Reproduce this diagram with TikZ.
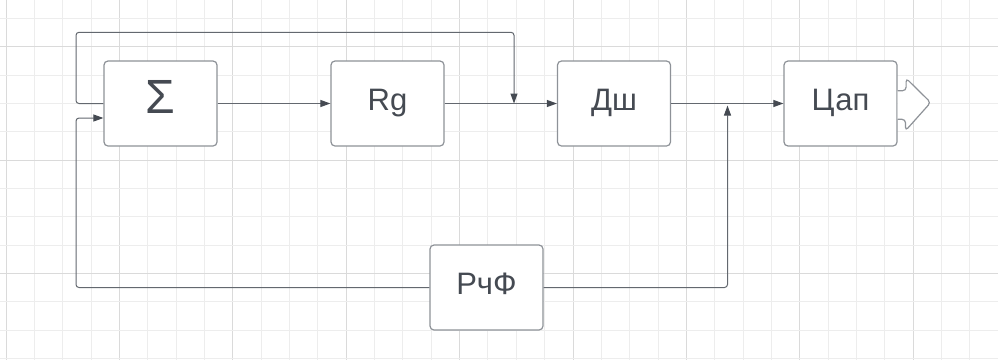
\documentclass[tikz,border=0pt]{standalone}
\usepackage{fontspec}
\setmainfont{Liberation Sans}
\usetikzlibrary{arrows.meta}
\definecolor{gridminor}{HTML}{EDEDED}
\definecolor{gridmajor}{HTML}{DADADA}
\definecolor{boxline}{HTML}{8E9298}
\definecolor{wirecol}{HTML}{63686F}
\definecolor{ink}{HTML}{454A52}
\tikzset{
  block/.style={draw=boxline, line width=1.2pt, fill=white, rounded corners=4pt,
    minimum width=113pt, minimum height=85pt, inner sep=0pt, text=ink,
    font=\fontsize{31}{36}\selectfont, text height=22pt, text depth=8pt},
  wire/.style={draw=wirecol, line width=1pt, rounded corners=3pt},
  feed/.style={wire, -{Triangle[length=10pt,width=7pt,color=ink]}},
  gminor/.style={draw=gridminor, line width=1pt},
  gmajor/.style={draw=gridmajor, line width=1pt},
}
\begin{document}
\begin{tikzpicture}[x=1pt,y=-1pt]
\fill[white] (0,0) rectangle (998,360);
\useasboundingbox (0,0) rectangle (998,360);

% background grid, a heavier line every fourth cell
\foreach \k in {0,...,35}{
  \pgfmathtruncatemacro{\m}{mod(\k,4)}
  \ifnum\m=0 \def\gs{gmajor}\else\def\gs{gminor}\fi
  \draw[\gs] (6+28.35*\k,0) -- (6+28.35*\k,360);
}
\foreach \k in {0,...,12}{
  \pgfmathtruncatemacro{\m}{mod(\k,4)}
  \ifnum\m=1 \def\gs{gmajor}\else\def\gs{gminor}\fi
  \draw[\gs] (0,18.3+28.35*\k) -- (998,18.3+28.35*\k);
}

% blocks
\node[block, font=\fontsize{48}{56}\selectfont, text height=35pt, text depth=16pt]
  (sigma) at (160.5,103.5) {Σ};
\node[block] (rg)   at (387.5,103.5) {Rg};
\node[block] (dsh)  at (614,103.5)   {Дш};
\node[block] (tsap) at (840.5,103.5) {Цап};
\node[block] (rchf) at (486.5,287.5) {РчФ};

% junction and bend points
\coordinate (j1) at (514,103.5);
\coordinate (j2) at (727.5,103.5);
\coordinate (tl) at (76,32.3);
\coordinate (bl) at (76,118);

% forward path
\draw[feed] (sigma.east) -- (rg.west);
\draw[feed] (rg.east) -- (dsh.west);
\draw[feed] (dsh.east) -- (tsap.west);

% loop around the summer into the junction before Дш
\draw[feed] (sigma.west) -| (tl) -| (j1);

% РчФ feedback to the summer and to the junction before Цап
\draw[feed] (rchf.west) -| (bl) -- (bl -| sigma.west);
\draw[feed, shorten >=2pt] (rchf.east) -| (j2);

% output arrow of Цап
\draw[draw=boxline, line width=1.2pt, fill=white, rounded corners=3.5pt]
  ([yshift=12.8pt]tsap.east) -- ++(8.5,0) -- ++(0,-12.4)
  -- (930.7,102.5) -- (905.5,130.7) -- (905.5,119.3)
  -- ([yshift=-15.8pt]tsap.east);
\end{tikzpicture}
\end{document}
